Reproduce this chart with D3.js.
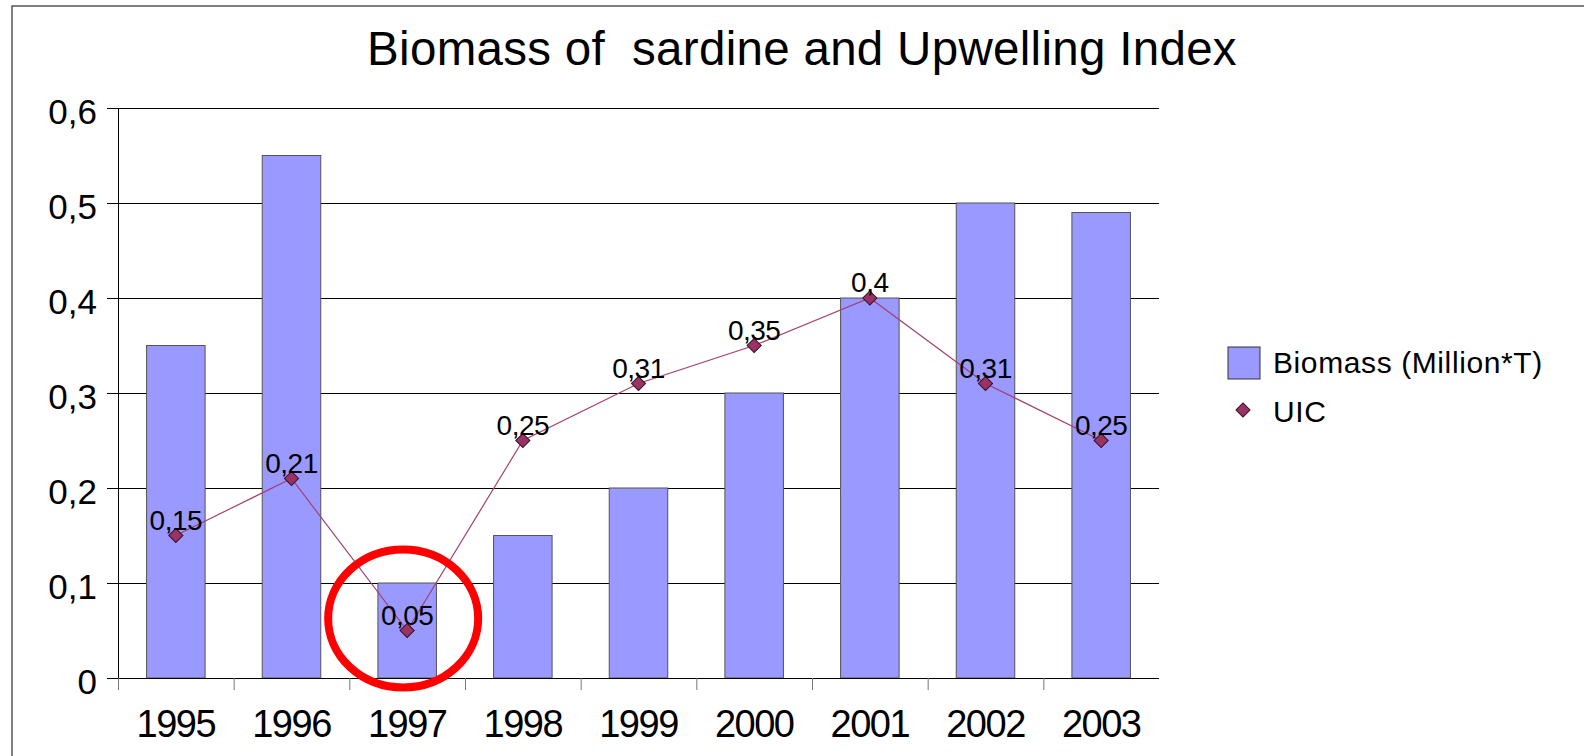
<!DOCTYPE html>
<html>
<head>
<meta charset="utf-8">
<script src="https://cdn.jsdelivr.net/npm/d3@7"></script>
<style>
  html, body { margin: 0; padding: 0; background: #fff; }
  svg { display: block; font-family: "Liberation Sans", Arial, Helvetica, sans-serif; }
</style>
</head>
<body>
<svg id="chart" width="1584" height="756"></svg>
<script>
// Chart data
const years = ["1995", "1996", "1997", "1998", "1999", "2000", "2001", "2002", "2003"];
const biomass = [0.35, 0.55, 0.10, 0.15, 0.20, 0.30, 0.40, 0.50, 0.49];
const uic = [0.15, 0.21, 0.05, 0.25, 0.31, 0.35, 0.40, 0.31, 0.25];
const yTicks = [0, 0.1, 0.2, 0.3, 0.4, 0.5, 0.6];
const titleText = "Biomass of  sardine and Upwelling Index";
const legendLabels = ["Biomass (Million*T)", "UIC"];
const highlightYear = "1997";

const svg = d3.select("#chart");
const plot = { left: 118, right: 1159, top: 108, bottom: 678 };

const x = d3.scaleBand().domain(years).range([plot.left, plot.right]).padding(0);
const y = d3.scaleLinear().domain([0, 0.6]).range([plot.bottom, plot.top]);
const fmt = v => String(+v.toFixed(2)).replace(".", ",");

// outer frame (runs past the right and bottom edges)
svg.append("rect")
  .attr("x", 12).attr("y", 6).attr("width", 1600).attr("height", 800)
  .attr("fill", "none").attr("stroke", "#555").attr("stroke-width", 1.5);

// title
svg.append("text")
  .attr("x", 802).attr("y", 65)
  .attr("text-anchor", "middle")
  .attr("font-size", 47.5)
  .attr("letter-spacing", "0.3px")
  .attr("fill", "#000")
  .style("white-space", "pre")
  .text(titleText);

// horizontal gridlines
svg.append("g").selectAll("line")
  .data(yTicks)
  .join("line")
  .attr("x1", plot.left).attr("x2", plot.right)
  .attr("y1", d => y(d) + 0.5).attr("y2", d => y(d) + 0.5)
  .attr("stroke", "#000").attr("stroke-width", 1);

// bars
const barW = x.bandwidth() * 0.506;
svg.append("g").selectAll("rect")
  .data(years.map((yr, i) => ({ yr, v: biomass[i] })))
  .join("rect")
  .attr("x", d => x(d.yr) + (x.bandwidth() - barW) / 2)
  .attr("y", d => y(d.v))
  .attr("width", barW)
  .attr("height", d => y(0) - y(d.v))
  .attr("fill", "#9999ff")
  .attr("stroke", "#555")
  .attr("stroke-width", 1);

// y axis
const yAxis = svg.append("g")
  .attr("transform", `translate(${plot.left},0)`)
  .call(d3.axisLeft(y).tickValues(yTicks).tickSize(11).tickSizeOuter(0).tickPadding(10).tickFormat(fmt));
yAxis.select(".domain").attr("stroke", "#000");
yAxis.selectAll(".tick line").attr("stroke", "#000");
yAxis.selectAll(".tick text")
  .attr("font-family", "Liberation Sans, Arial, sans-serif")
  .attr("font-size", 35).attr("fill", "#000")
  .attr("dy", 15);

// x axis: baseline, ticks between categories, year labels
svg.append("line")
  .attr("x1", plot.left).attr("x2", plot.right)
  .attr("y1", plot.bottom + 0.5).attr("y2", plot.bottom + 0.5)
  .attr("stroke", "#000");
svg.append("g").selectAll("line")
  .data(years)
  .join("line")
  .attr("x1", d => x(d) + 0.5).attr("x2", d => x(d) + 0.5)
  .attr("y1", plot.bottom).attr("y2", plot.bottom + 12)
  .attr("stroke", "#777");

const xAxis = svg.append("g")
  .attr("transform", `translate(0,${plot.bottom})`)
  .call(d3.axisBottom(x).tickSize(0).tickSizeOuter(0));
xAxis.select(".domain").remove();
xAxis.selectAll(".tick text")
  .attr("font-family", "Liberation Sans, Arial, sans-serif")
  .attr("font-size", 38).attr("fill", "#000")
  .attr("letter-spacing", "-1.5px")
  .attr("y", 59).attr("dy", 0);

// UIC line
const cx = d => x(d) + x.bandwidth() / 2;
const lineGen = d3.line().x((d, i) => cx(years[i])).y(d => y(d));
svg.append("path")
  .datum(uic)
  .attr("d", lineGen)
  .attr("fill", "none")
  .attr("stroke", "#a3406f")
  .attr("stroke-width", 1.2);

// diamond markers
const diamond = d3.symbol().type(d3.symbolSquare).size(100);
svg.append("g").selectAll("path")
  .data(uic)
  .join("path")
  .attr("d", diamond)
  .attr("transform", (d, i) => `translate(${cx(years[i])},${y(d)}) rotate(45)`)
  .attr("fill", "#993366")
  .attr("stroke", "#3a1026")
  .attr("stroke-width", 1);

// data labels
svg.append("g").selectAll("text")
  .data(uic)
  .join("text")
  .attr("x", (d, i) => cx(years[i]))
  .attr("y", d => y(d) - 6)
  .attr("text-anchor", "middle")
  .attr("font-size", 28)
  .attr("letter-spacing", "-0.5px")
  .attr("fill", "#000")
  .text(fmt);

// red highlight ring around 1997
const hIdx = years.indexOf(highlightYear);
svg.append("ellipse")
  .attr("cx", cx(highlightYear) - 4)
  .attr("cy", y(uic[hIdx]) - 12)
  .attr("rx", 75).attr("ry", 69)
  .attr("fill", "none")
  .attr("stroke", "#ff0000")
  .attr("stroke-width", 8);

// legend
const legend = svg.append("g");
legend.append("rect")
  .attr("x", 1228).attr("y", 347).attr("width", 32).attr("height", 32)
  .attr("fill", "#9999ff").attr("stroke", "#333").attr("stroke-width", 1);
legend.append("text")
  .attr("x", 1273).attr("y", 373)
  .attr("font-size", 30).attr("letter-spacing", "0.6px")
  .attr("fill", "#000")
  .text(legendLabels[0]);
legend.append("path")
  .attr("d", diamond)
  .attr("transform", "translate(1243,410) rotate(45)")
  .attr("fill", "#993366").attr("stroke", "#3a1026").attr("stroke-width", 1);
legend.append("text")
  .attr("x", 1273).attr("y", 422)
  .attr("font-size", 30).attr("letter-spacing", "0.6px")
  .attr("fill", "#000")
  .text(legendLabels[1]);
</script>
</body>
</html>
